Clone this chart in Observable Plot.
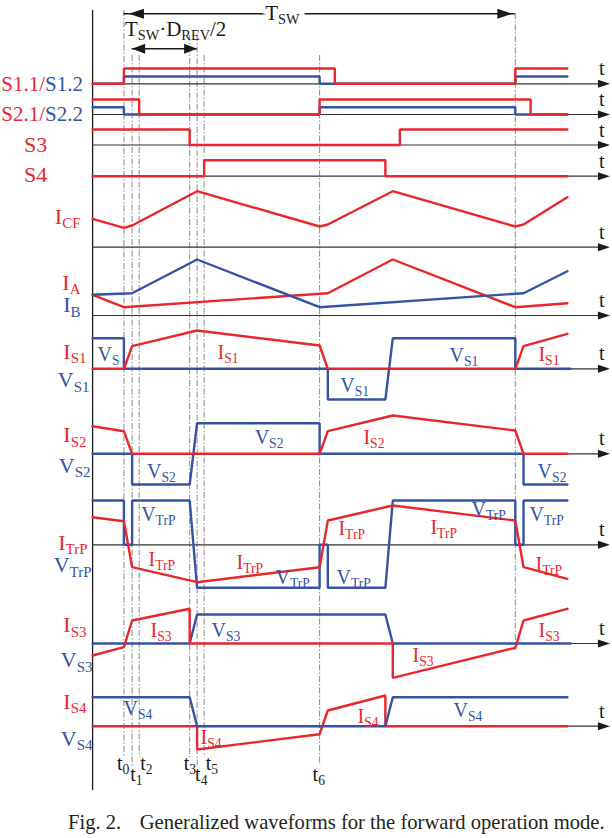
<!DOCTYPE html>
<html><head><meta charset="utf-8">
<script src="https://cdn.jsdelivr.net/npm/d3@7"></script>
<script src="https://cdn.jsdelivr.net/npm/@observablehq/plot@0.6"></script>
<style>
html,body{margin:0;padding:0;background:#fff;}
body{width:612px;height:838px;overflow:hidden;position:relative;}
#chart{position:absolute;left:0;top:0;}
#cap{position:absolute;left:68px;top:810px;font-family:"Liberation Serif",serif;font-size:20.6px;color:#231f20;white-space:pre;line-height:24px;}
#cap .rest{margin-left:3px;}
</style></head><body>
<div id="chart"></div>
<div id="cap"><span class="fig"></span><span class="rest"></span></div>
<script>
// ================= DATA =================
const captionFig = "Fig. 2.";
const captionText = "   Generalized waveforms for the forward operation mode.";
const period = 1;                       // T_SW (normalised time)
const instantNames = ["t_{0}","t_{1}","t_{2}","t_{3}","t_{4}","t_{5}","t_{6}"];
const instantTimes = [0, 0.021, 0.039, 0.168, 0.187, 0.205, 0.5];
const periodLabel = "T_{SW}";
const intervalLabel = "T_{SW}·D_{REV}/2";
const intervalFromTo = [0.021, 0.187];
const axisLabel = "t";

// waveforms: [time, level] (level in relative units above each row's axis)
const S11 = [[-0.08,0],[0,0],[0,15.3],[0.539,15.3],[0.539,0],[1,0],[1,15.3],[1.133,15.3]];
const S12 = [[-0.08,0],[0,0],[0,7.3],[0.5,7.3],[0.5,0],[1,0],[1,7.3],[1.133,7.3]];
const S21 = [[-0.08,15],[0.039,15],[0.039,0],[0.5,0],[0.5,15],[1.039,15],[1.039,0],[1.133,0]];
const S22 = [[-0.08,7.3],[0,7.3],[0,0],[0.5,0],[0.5,7.3],[1,7.3],[1,0],[1.133,0]];
const S3w = [[-0.08,15.5],[0.168,15.5],[0.168,0],[0.705,0],[0.705,15.5],[1.133,15.5]];
const S4w = [[-0.08,0],[0.205,0],[0.205,16],[0.668,16],[0.668,0],[1.133,0]];
const ICF = [[-0.08,28.4],[0,19.4],[0.021,21.7],[0.187,56],[0.5,20.7],[0.521,22.7],[0.687,56],[1,20.7],[1.021,22.7],[1.133,50]];
const IA  = [[-0.08,20.7],[0,8.3],[0.521,22.3],[0.687,56],[1,8.3],[1.133,12.3]];
const IB  = [[-0.08,20.7],[0.021,22.3],[0.187,56],[0.5,8.3],[1.021,22.3],[1.133,44.3]];
const IS1 = [[-0.08,0],[0,0],[0.021,22.6],[0.187,38.3],[0.5,23.3],[0.521,0],[1,0],[1.021,22.6],[1.133,35]];
const VS1 = [[-0.08,30.6],[0,30.6],[0,0],[0.521,0],[0.521,-30.7],[0.668,-30.7],[0.687,30.6],[1,30.6],[1,0],[1.141,0]];
const IS2 = [[-0.08,27.6],[0,22.6],[0.021,0],[0.5,0],[0.521,22.6],[0.687,38.3],[1,23.3],[1.021,0],[1.133,0]];
const VS2 = [[-0.08,0],[0.021,0],[0.021,-30.7],[0.168,-30.7],[0.187,30.6],[0.5,30.6],[0.5,0],[1.021,0],[1.021,-30.7],[1.133,-30.7]];
const VTrP = [[-0.08,44.3],[0,44.3],[0,0],[0.021,0],[0.021,44.3],[0.168,44.3],[0.187,-43],[0.5,-43],[0.5,0],[0.521,0],[0.521,-43],[0.668,-43],[0.687,44.3],[1,44.3],[1,0],[1.021,0],[1.021,44.3],[1.133,44.3]];
const ITrP = [[-0.08,27.6],[0,23.6],[0.021,-22.4],[0.187,-37.4],[0.5,-22.4],[0.521,24.3],[0.687,39.3],[1,24.3],[1.021,-22.4],[1.133,-34]];
const IS3 = [[-0.08,-12],[0,-3.7],[0.021,23],[0.168,34.7],[0.168,0],[0.687,0],[0.687,-34.3],[1,-4.3],[1.021,23],[1.133,34.7]];
const VS3 = [[-0.08,0],[0.168,0],[0.187,29],[0.668,29],[0.687,0],[1.141,0]];
const VS4 = [[-0.08,29],[0.168,29],[0.187,0],[0.668,0],[0.687,29],[1.133,29]];
const IS4 = [[-0.08,0],[0.187,0],[0.187,-23.3],[0.5,-8],[0.521,15.7],[0.668,30.7],[0.668,0],[1.133,0]];

const rowNames = ["S1","S2","S3","S4","ICF","IAB","IS1","IS2","ITrP","IS3","IS4"];
const leftLabelTexts = ["S1.1/|S1.2","S2.1/|S2.2","S3","S4","I_{CF}","I_{A}","I_{B}","I_{S1}","V_{S1}","I_{S2}","V_{S2}","I_{TrP}","V_{TrP}","I_{S3}","V_{S3}","I_{S4}","V_{S4}"];
const annotationTexts = ["V_{S}","I_{S1}","V_{S1}","I_{S1}","V_{S1}",
  "V_{S2}","I_{S2}","V_{S2}","V_{S2}",
  "V_{TrP}","I_{TrP}","I_{TrP}","V_{TrP}","I_{TrP}","V_{TrP}","I_{TrP}","V_{TrP}","V_{TrP}","I_{TrP}",
  "I_{S3}","V_{S3}","I_{S3}","I_{S3}",
  "V_{S4}","I_{S4}","I_{S4}","V_{S4}"];

// ================= LAYOUT / STYLE =================
const RED = "#e8262d", BLUE = "#3453a3", INK = "#1a1a1a";
const W = 612, H = 800;
const tStart = -0.08, tAxisEnd = 1.222, tArrowTip = 1.2417;
const rowBase = {S1:83.3,S2:114,S3:144.5,S4:175.7,ICF:246.7,IAB:315,IS1:368.3,IS2:453.3,ITrP:544.3,IS3:643,IS4:725.7};
const series = [
  ["S1",S12,BLUE],["S1",S11,RED],["S2",S22,BLUE],["S2",S21,RED],["S3",S3w,RED],["S4",S4w,RED],
  ["ICF",ICF,RED],["IAB",IA,RED],["IAB",IB,BLUE],
  ["IS1",VS1,BLUE],["IS1",IS1,RED],["IS2",VS2,BLUE],["IS2",IS2,RED],
  ["ITrP",VTrP,BLUE],["ITrP",ITrP,RED],["IS3",VS3,BLUE],["IS3",IS3,RED],["IS4",IS4,RED],["IS4",VS4,BLUE]
];
// left labels: [colour, right edge px, baseline px, font size]
const leftLabelLayout = [[RED,82.5,90.5,21],[RED,82.5,120.5,21],[RED,46.7,151.7,22],[RED,46.7,181.7,22],
  [RED,80,223.3,22],[RED,80,289.3,22],[BLUE,80,311.7,22],[RED,86,358.3,22],[BLUE,89,386.7,22],
  [RED,86,441.7,22],[BLUE,90,472.3,22],[RED,87,549,22],[BLUE,91,571.7,22],[RED,86,631.7,22],[BLUE,92,666.7,22],[RED,86,708.3,22],[BLUE,92,745,22]];
// annotations: [row, time, level, colour]
const annotationLayout = [
  ["IS1",-0.0675,8.3,BLUE],["IS1",0.239,10.3,RED],["IS1",0.832,7.3,BLUE],["IS1",1.059,8.3,RED],["IS1",0.553,-22.7,BLUE],
  ["IS2",0.334,10.3,BLUE],["IS2",0.612,10.3,RED],["IS2",0.059,-23.7,BLUE],["IS2",1.057,-23.7,BLUE],
  ["ITrP",0.044,24.3,BLUE],["ITrP",0.0629,-20.7,RED],["ITrP",0.2877,-23.7,RED],["ITrP",0.3873,-38.7,BLUE],["ITrP",0.548,10.3,RED],
  ["ITrP",0.543,-38.7,BLUE],["ITrP",0.783,11.3,RED],["ITrP",0.888,29.3,BLUE],["ITrP",1.036,24.3,BLUE],["ITrP",1.0516,-25.7,RED],
  ["IS3",0.068,6.3,RED],["IS3",0.2238,6.3,BLUE],["IS3",0.7373,-18.7,RED],["IS3",1.0593,6.3,RED],
  ["IS4",-0.001,11,BLUE],["IS4",0.1957,-17.3,RED],["IS4",0.597,3.7,RED],["IS4",0.842,9,BLUE]];
// instant lines: [top, bottom, label baseline, label dx]
const instantLayout = [[10,757,769,-7],[55,768,780,-2],[55,757,769,1],[35,757,769,-6],[35,768,780,-2],[55,757,769,1.5],[55,765,780,-7]];
const periodLineLayout = [13,650];

const head = (dir, L, Wd) => ({draw(ctx){ ctx.moveTo(0,0); ctx.lineTo(-dir*L,-Wd); ctx.lineTo(-dir*L,Wd); ctx.closePath(); }});

const marks = [];
const vlines = instantTimes.map((t,i) => ({t, y1: instantLayout[i][0], y2: instantLayout[i][1]}));
vlines.push({t: period, y1: periodLineLayout[0], y2: periodLineLayout[1]});
marks.push(Plot.ruleX(vlines, {x:"t", y1:"y1", y2:"y2", stroke:"#8a8a8a", strokeWidth:1, strokeDasharray:"6,2,1.5,2"}));
marks.push(Plot.ruleX([tStart], {x: d=>d, y1: 10, y2: 790, stroke: INK, strokeWidth: 1.3}));
const bases = rowNames.map(r => rowBase[r]);
marks.push(Plot.ruleY(bases, {y: d=>d, x1: tStart, x2: tAxisEnd, stroke: "#333", strokeWidth: 1.2}));
marks.push(Plot.dot(bases, {x: tArrowTip, y: d=>d, symbol: head(1,12,4), fill: INK, r: 4}));
marks.push(Plot.text(bases, {y: d=>d-8.5, text: () => axisLabel, frameAnchor: "right", dx: -8, fontSize: 20, lineAnchor: "bottom", fill: INK}));
for (const [row, arr, color] of series) {
  marks.push(Plot.line(arr.map(([t,v]) => ({t, y: rowBase[row] - v})), {x:"t", y:"y", stroke: color, strokeWidth: 2.4, strokeLinejoin: "miter"}));
}
const spanData = [
  {a: instantTimes[0], b: period, y: 13.3, dxa: 5, dxb: -3, L: 15},
  {a: intervalFromTo[0], b: intervalFromTo[1], y: 48.3, dxa: 0, dxb: 0, L: 13}
];
for (const s of spanData) {
  marks.push(Plot.ruleY([s], {y:"y", x1:"a", x2:"b", stroke: INK, strokeWidth: 1.5}));
  marks.push(Plot.dot([s], {x:"a", y:"y", dx: s.dxa, symbol: head(-1, s.L, 5), fill: INK, r: 4}));
  marks.push(Plot.dot([s], {x:"b", y:"y", dx: s.dxb, symbol: head(1, s.L, 5), fill: INK, r: 4}));
}
marks.push(Plot.text([periodLabel], {x: 0.405, y: 19, text: d=>d, fontSize: 21, lineAnchor: "bottom", fill: INK, stroke: "white", strokeWidth: 10}));
marks.push(Plot.text([intervalLabel], {x: instantTimes[0], y: 35.5, dx: 1, text: d=>d, fontSize: 21, lineAnchor: "bottom", textAnchor: "start", fill: INK}));
instantNames.forEach((name, i) => {
  marks.push(Plot.text([name], {x: instantTimes[i], y: instantLayout[i][2], dx: instantLayout[i][3], text: d=>d, textAnchor: "start", lineAnchor: "bottom", fontSize: 20, fill: INK}));
});
leftLabelTexts.forEach((txt, i) => {
  const [color, right, base, fs] = leftLabelLayout[i];
  marks.push(Plot.text([txt], {frameAnchor: "left", dx: right, y: base, text: d=>d, textAnchor: "end", lineAnchor: "bottom", fontSize: fs, fill: color}));
});
annotationTexts.forEach((txt, i) => {
  const [row, t, lvl, color] = annotationLayout[i];
  marks.push(Plot.text([txt], {x: t, y: rowBase[row] - lvl, text: d=>d, textAnchor: "start", lineAnchor: "bottom", fontSize: 20, fill: color}));
});

const svg = Plot.plot({
  width: W, height: H, margin: 0,
  x: {domain: [-0.3153, 1.2483], range: [0, W], axis: null},
  y: {domain: [0, H], range: [0, H], axis: null},
  style: {fontFamily: "'Liberation Serif', 'Times New Roman', serif", background: "white", overflow: "visible"},
  marks
});

function richify(root) {
  const NS = "http://www.w3.org/2000/svg";
  root.querySelectorAll("text").forEach(el => {
    const s = el.textContent;
    if (!/[_|]/.test(s)) return;
    const g = el.closest("[font-size]");
    const F = g ? parseFloat(g.getAttribute("font-size")) : 20;
    const subF = +(F * 0.68).toFixed(1), shift = +(F * 0.2).toFixed(1);
    while (el.firstChild) el.removeChild(el.firstChild);
    let down = false, color = null, m;
    const re = /_\{([^}]*)\}|\||([^_|]+)/g;
    while ((m = re.exec(s))) {
      if (m[0] === "|") { color = BLUE; continue; }
      const ts = document.createElementNS(NS, "tspan");
      if (m[1] !== undefined) {
        ts.textContent = m[1]; ts.setAttribute("font-size", subF);
        if (!down) { ts.setAttribute("dy", shift); down = true; }
      } else {
        ts.textContent = m[2];
        if (down) { ts.setAttribute("dy", -shift); down = false; }
      }
      if (color) ts.setAttribute("fill", color);
      el.appendChild(ts);
    }
  });
}
richify(svg);
document.getElementById("chart").appendChild(svg);
document.querySelector("#cap .fig").textContent = captionFig;
document.querySelector("#cap .rest").textContent = captionText;
</script>
</body></html>
